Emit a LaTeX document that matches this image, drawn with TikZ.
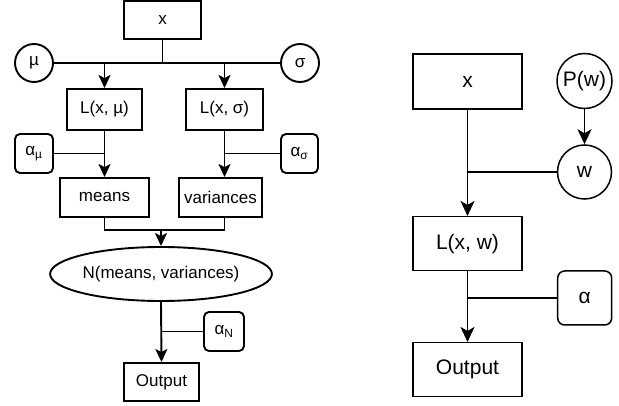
\documentclass[tikz,border=0pt]{standalone}
\usepackage{fontspec}
\setmainfont{Liberation Sans}
\usetikzlibrary{shapes.geometric,arrows.meta}
\tikzset{
  lbox/.style={draw, line width=1.9pt, inner sep=0pt, font=\fontsize{17}{20}\selectfont},
  lcirc/.style={draw, circle, line width=1.9pt, inner sep=0pt, font=\fontsize{17}{20}\selectfont},
  lround/.style={lbox, rounded corners=5pt},
  lline/.style={line width=1.9pt},
  larr/.style={line width=1.9pt, -{Stealth[length=13pt,width=12pt,inset=3pt]}},
  rbox/.style={draw, line width=1.5pt, inner sep=0pt, font=\fontsize{21}{24}\selectfont},
  rcirc/.style={draw, circle, line width=1.5pt, inner sep=0pt, font=\fontsize{21}{24}\selectfont},
  rround/.style={rbox, rounded corners=7pt},
  rline/.style={line width=1.5pt},
  rarr/.style={line width=1.5pt, -{Stealth[length=15pt,width=14pt,inset=4pt]}},
}
\begin{document}
\begin{tikzpicture}[x=1pt,y=-1pt]
\useasboundingbox (0,0) rectangle (619,406);
% left diagram
\node[lbox, minimum width=77pt, minimum height=38pt] (xL) at (162.5,20) {x};
\node[lcirc, minimum size=38pt] (mu) at (34,63) {µ};
\node[lcirc, minimum size=38pt] (sigma) at (300,63) {σ};
\node[lbox, minimum width=75pt, minimum height=41pt] (Lmu) at (104.5,109.5) {L(x, µ)};
\node[lbox, minimum width=77pt, minimum height=41pt] (Lsig) at (224.5,109.5) {L(x, σ)};
\node[lround, minimum width=38pt, minimum height=39pt] (amu) at (34,153.5) {α\textsubscript{µ}};
\node[lround, minimum width=37pt, minimum height=39pt] (asig) at (299.5,153.5) {α\textsubscript{σ}};
\node[lbox, minimum width=89pt, minimum height=39pt] (means) at (104.5,197.5) {means};
\node[lbox, minimum width=83pt, minimum height=39pt] (vars) at (220.5,197.5) {variances};
\node[draw, ellipse, line width=1.9pt, inner sep=0pt, minimum width=218pt, minimum height=54pt, font=\fontsize{17}{20}\selectfont] (ell) at (161,274) {N(means, variances)};
\node[lround, minimum width=40pt, minimum height=39pt] (aN) at (224,331.5) {α\textsubscript{N}};
\node[lbox, minimum width=75pt, minimum height=38pt] (outL) at (161.5,382) {Output};
\coordinate (j1) at (xL.south |- mu.east);
\coordinate (j2) at (161,230);
\draw[lline] (mu.east) -- (sigma.west);
\draw[lline] (xL.south) -- (j1);
\draw[larr] (Lmu.north |- mu.east) -- (Lmu.north);
\draw[larr] (Lsig.north |- sigma.west) -- (Lsig.north);
\draw[lline] (amu.east) -- (Lmu.south |- amu.east);
\draw[lline] (asig.west) -- (Lsig.south |- asig.west);
\draw[larr] (Lmu.south) -- (means.north);
\draw[larr] (Lsig.south) -- (Lsig.south |- vars.north);
\draw[lline] (means.south) |- (j2) -| (Lsig.south |- vars.south);
\draw[larr] (j2) -- (ell.north);
\draw[larr] (ell.south) -- (outL.north);
\draw[lline] (aN.west) -- (ell.south |- aN.west);
% right diagram
\node[rbox, minimum width=109pt, minimum height=55pt] (xR) at (467.5,81.5) {x};
\node[rcirc, minimum size=55pt] (Pw) at (584.5,81) {P(w)};
\node[rcirc, minimum size=54pt] (w) at (584.5,172) {w};
\node[rbox, minimum width=109pt, minimum height=54pt] (LR) at (467.5,243.7) {L(x, w)};
\node[rround, minimum width=54pt, minimum height=54pt] (al) at (584.7,298) {α};
\node[rbox, minimum width=109pt, minimum height=54pt] (outR) at (467.5,369.7) {Output};
\draw[rarr] (Pw.south) -- (w.north);
\draw[rarr] (xR.south) -- (LR.north);
\draw[rline] (w.west) -- (xR.south |- w.west);
\draw[rarr] (LR.south) -- (outR.north);
\draw[rline] (al.west) -- (LR.south |- al.west);
\end{tikzpicture}
\end{document}
